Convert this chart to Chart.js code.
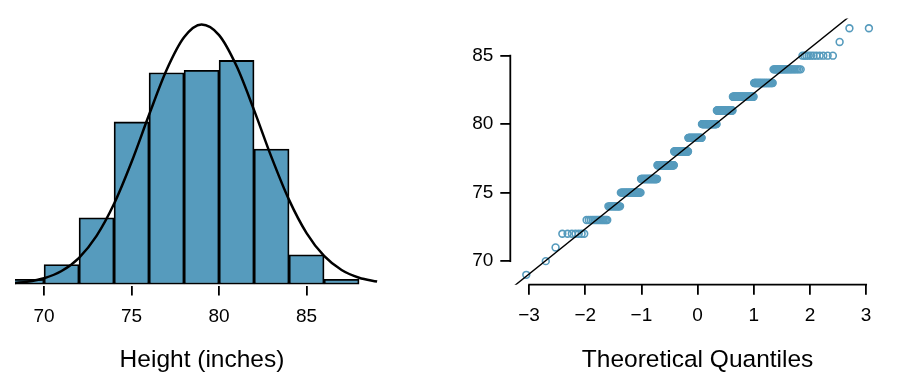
<!DOCTYPE html>
<html>
<head>
<meta charset="utf-8">
<script src="https://cdn.jsdelivr.net/npm/chart.js@4.4.1/dist/chart.umd.min.js"></script>
<style>
  html, body { margin: 0; padding: 0; background: #fff; }
  .wrap { position: relative; width: 900px; height: 375px; }
  canvas { position: absolute; top: 0; }
  #hist { left: 0; }
  #qq { left: 450px; }
</style>
</head>
<body>
<div class="wrap">
  <canvas id="hist" width="450" height="375"></canvas>
  <canvas id="qq" width="450" height="375"></canvas>
</div>
<script>
// histogram of heights, bins are (a, b]
const binEdges = [68, 70, 72, 74, 76, 78, 80, 82, 84, 86, 88];
const binCounts = [2, 8, 27, 66, 86, 87, 91, 55, 12, 2];

// normal curve drawn over the histogram (counts)
const curveX = [68.34, 69, 70, 71, 72, 73, 74, 75, 76, 77, 78, 79, 80, 81, 82, 83, 84, 85, 86, 87, 88, 89.03];
const curveY = [0.55, 1.02, 2.46, 5.39, 10.77, 19.67, 32.7, 49.7, 68.9, 87.1, 100.4, 105.6, 101.3, 88.7, 70.8, 51.6, 34.3, 20.8, 11.5, 5.8, 2.67, 1.09];
const histTicks = [70, 75, 80, 85];

// sample for the normal probability plot: each height and how often it occurs
const heightValues = [69, 70, 71, 72, 73, 74, 75, 76, 77, 78, 79, 80, 81, 82, 83, 84, 85, 86, 87];
const heightCounts = [1, 1, 1, 7, 14, 13, 31, 35, 44, 42, 42, 45, 44, 47, 30, 25, 11, 1, 2];

// reference line of the qq plot
const qqLineX = [-3.5, 3.5];
const qqLineY = [67.41, 90.49];

const qqXTicks = [-3, -2, -1, 0, 1, 2, 3];
const qqXLabels = ['\u22123', '\u22122', '\u22121', '0', '1', '2', '3'];
const qqYTicks = [70, 75, 80, 85];

const BLUE = '#569BBD';
const FONT = "'Liberation Sans', Arial, Helvetica, sans-serif";

// inverse normal cdf (Acklam)
function qnorm(p) {
    const a = [-39.69683028665376, 220.9460984245205, -275.9285104469687, 138.3577518672690, -30.66479806614716, 2.506628277459239];
    const b = [-54.47609879822406, 161.5858368580409, -155.6989798598866, 66.80131188771972, -13.28068155288572];
    const c = [-0.007784894002430293, -0.3223964580411365, -2.400758277161838, -2.549732539343734, 4.374664141464968, 2.938163982698783];
    const d = [0.007784695709041462, 0.3224671290700398, 2.445134137142996, 3.754408661907416];
    const pl = 0.02425;
    let q, r;
    if (p < pl) {
        q = Math.sqrt(-2 * Math.log(p));
        return (((((c[0]*q+c[1])*q+c[2])*q+c[3])*q+c[4])*q+c[5]) / ((((d[0]*q+d[1])*q+d[2])*q+d[3])*q+1);
    }
    if (p > 1 - pl) {
        q = Math.sqrt(-2 * Math.log(1 - p));
        return -(((((c[0]*q+c[1])*q+c[2])*q+c[3])*q+c[4])*q+c[5]) / ((((d[0]*q+d[1])*q+d[2])*q+d[3])*q+1);
    }
    q = p - 0.5;
    r = q * q;
    return (((((a[0]*r+a[1])*r+a[2])*r+a[3])*r+a[4])*r+a[5])*q / (((((b[0]*r+b[1])*r+b[2])*r+b[3])*r+b[4])*r+1);
}

// sorted sample against theoretical quantiles, as qqnorm does
const sample = [];
heightValues.forEach((h, i) => {
    for (let k = 0; k < heightCounts[i]; k++) sample.push(h);
});
const n = sample.length;
const qqPoints = sample.map((h, i) => ({ x: qnorm((i + 0.5) / n), y: h }));

// R style axis line: only from first to last tick
const axisLines = {
    id: 'axisLines',
    afterDatasetsDraw(chart, args, opts) {
        const ctx = chart.ctx;
        const w = opts.width || 1.8;
        ctx.save();
        ctx.strokeStyle = '#000';
        ctx.lineWidth = w;
        (opts.scales || []).forEach(id => {
            const s = chart.scales[id];
            const t = s.ticks;
            const a = s.getPixelForValue(t[0].value);
            const b = s.getPixelForValue(t[t.length - 1].value);
            ctx.beginPath();
            if (s.isHorizontal()) {
                ctx.moveTo(a - w / 2, s.top);
                ctx.lineTo(b + w / 2, s.top);
            } else {
                ctx.moveTo(s.right, a + w / 2);
                ctx.lineTo(s.right, b - w / 2);
            }
            ctx.stroke();
        });
        ctx.restore();
    }
};

const tickFont = { family: FONT, size: 19 };
const titleFont = { family: FONT, size: 24.5 };

new Chart(document.getElementById('hist'), {
    type: 'bar',
    data: {
        datasets: [
            {
                type: 'line',
                data: curveX.map((x, i) => ({ x: x, y: curveY[i] })),
                borderColor: '#000',
                borderWidth: 2.5,
                pointRadius: 0,
                fill: false,
                cubicInterpolationMode: 'monotone',
                clip: 0
            },
            {
                type: 'bar',
                data: binCounts.map((c, i) => ({ x: (binEdges[i] + binEdges[i + 1]) / 2, y: c })),
                backgroundColor: BLUE,
                borderColor: '#000',
                borderWidth: 1.8,
                borderSkipped: false,
                barPercentage: 1,
                categoryPercentage: 1,
                clip: 0
            }
        ]
    },
    options: {
        responsive: false,
        animation: false,
        layout: { padding: { left: 15, right: 61, top: 10, bottom: 0 } },
        plugins: { legend: { display: false }, tooltip: { enabled: false } },
        scales: {
            x: {
                type: 'linear',
                min: 68.34,
                max: 89.71,
                offset: false,
                afterBuildTicks: s => { s.ticks = histTicks.map(v => ({ value: v })); },
                afterFit: s => { s.height = 89.5; },
                grid: { offset: false, drawOnChartArea: false, drawTicks: true, tickLength: 10, color: '#000', lineWidth: 1.8 },
                border: { display: false },
                ticks: { font: tickFont, color: '#000', padding: 10, maxRotation: 0, autoSkip: false },
                title: { display: true, text: 'Height (inches)', font: titleFont, color: '#000', padding: { top: 0, bottom: 0 } }
            },
            y: {
                display: false,
                min: -0.5,
                max: 111.5
            }
        }
    }
});

new Chart(document.getElementById('qq'), {
    type: 'scatter',
    data: {
        datasets: [
            {
                type: 'line',
                data: qqLineX.map((x, i) => ({ x: x, y: qqLineY[i] })),
                borderColor: '#000',
                borderWidth: 1.4,
                pointRadius: 0,
                fill: false,
                clip: 0
            },
            {
                type: 'scatter',
                data: qqPoints,
                pointStyle: 'circle',
                pointRadius: 3.4,
                borderWidth: 1.6,
                borderColor: BLUE,
                backgroundColor: 'rgba(0,0,0,0)'
            }
        ]
    },
    options: {
        responsive: false,
        animation: false,
        layout: { padding: { left: 0, right: 15.1, top: 14.9, bottom: 0 } },
        plugins: {
            legend: { display: false },
            tooltip: { enabled: false },
            axisLines: { scales: ['x', 'y'], width: 1.8 }
        },
        scales: {
            x: {
                type: 'linear',
                min: -3.334,
                max: 3.334,
                afterBuildTicks: s => { s.ticks = qqXTicks.map(v => ({ value: v })); },
                afterFit: s => { s.height = 90.3; },
                grid: { drawOnChartArea: false, drawTicks: true, tickLength: 10, color: '#000', lineWidth: 1.8 },
                border: { display: false },
                ticks: {
                    font: tickFont, color: '#000', padding: 10, maxRotation: 0, autoSkip: false,
                    callback: (v, i) => qqXLabels[i]
                },
                title: { display: true, text: 'Theoretical Quantiles', font: titleFont, color: '#000', padding: { top: 0, bottom: 0 } }
            },
            y: {
                type: 'linear',
                min: 68.28,
                max: 87.72,
                afterBuildTicks: s => { s.ticks = qqYTicks.map(v => ({ value: v })); },
                afterFit: s => { s.width = 60.3; },
                grid: { drawOnChartArea: false, drawTicks: true, tickLength: 10, color: '#000', lineWidth: 1.8 },
                border: { display: false },
                ticks: { font: tickFont, color: '#000', padding: 7, autoSkip: false }
            }
        }
    },
    plugins: [axisLines]
});
</script>
</body>
</html>
